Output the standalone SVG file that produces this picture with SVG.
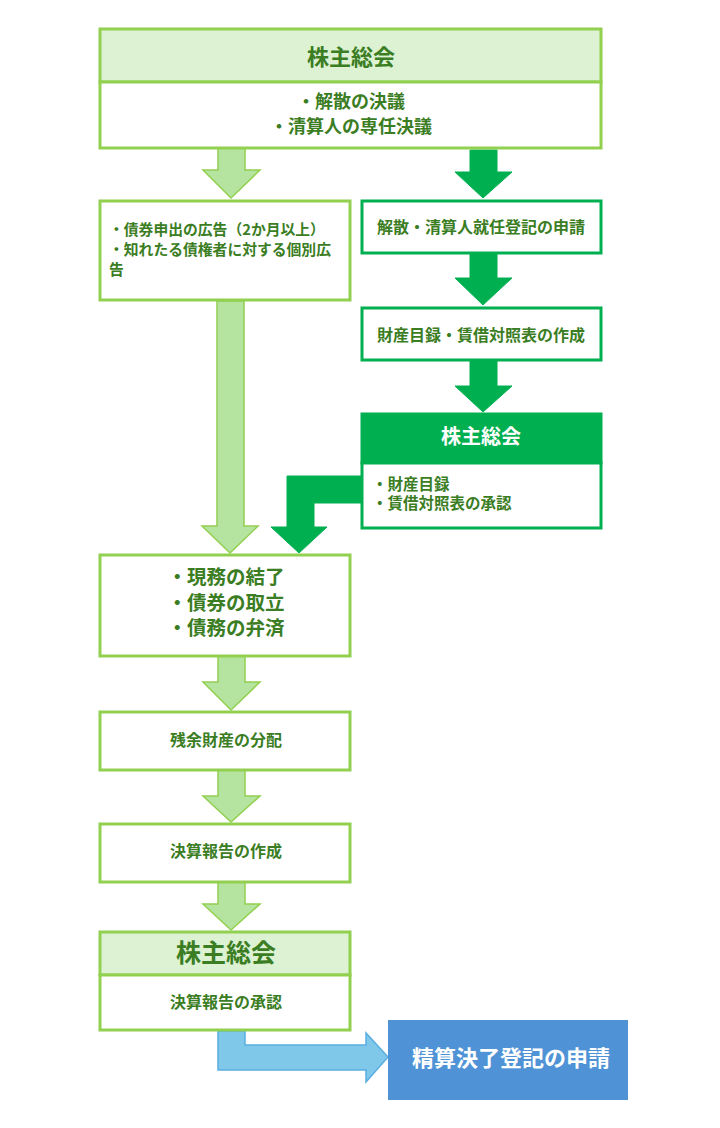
<svg xmlns="http://www.w3.org/2000/svg" width="720" height="1128" viewBox="0 0 720 1128">
<style>
.lb{fill:#fff;stroke:#92d050;stroke-width:3}
.lh{fill:#dcf2d2;stroke:#92d050;stroke-width:3}
.db{fill:#fff;stroke:#00b050;stroke-width:3}
.dh{fill:#00b050;stroke:#00b050;stroke-width:3}
.la{fill:#b5e3a0;stroke:#92d050;stroke-width:1.5}
.da{fill:#00b050;stroke:#00b050;stroke-width:1}
.ba{fill:#7fc8ea;stroke:#5aaee0;stroke-width:1.5}
text{font-family:"Noto Sans CJK JP","Noto Sans",sans-serif;font-weight:bold;fill:#3b7d23}
.c{text-anchor:middle}
.w{fill:#fff}
</style>
<g id="connectors">
<path class="la" d="M218,148 H245 V170 H260 L231,198 L203,170 H218 Z"/>
<path class="da" d="M470,150 H497 V172 H512 L483,198 L455,172 H470 Z"/>
<path class="da" d="M470,253 H497 V278 H512 L483,305 L455,278 H470 Z"/>
<path class="da" d="M470,360 H497 V386 H512 L483,412 L455,386 H470 Z"/>
<path class="da" d="M362,476 V503 H314 V527 H327 L299,553 L271,527 H287 V476 Z"/>
<path class="la" d="M217,301 H244 V526 H258 L230,553 L202,526 H217 Z"/>
<path class="la" d="M218,656 H245 V682 H260 L231,710 L203,682 H218 Z"/>
<path class="la" d="M218,770 H245 V796 H260 L231,822 L203,796 H218 Z"/>
<path class="la" d="M218,882 H245 V904 H260 L231,930 L203,904 H218 Z"/>
<path class="ba" d="M218,1031 H245 V1045 H366 V1033 L388,1057 L366,1082 V1070 H218 Z"/>
</g>
<g id="n1">
<rect class="lh" x="100" y="29" width="501" height="53"/>
<rect class="lb" x="100" y="82" width="501" height="66"/>
<text class="c" x="351" y="65" font-size="22">株主総会</text>
<text class="c" x="351" y="108" font-size="18">・解散の決議</text>
<text class="c" x="351" y="133" font-size="18">・清算人の専任決議</text>
</g>
<g id="n2">
<rect class="lb" x="100" y="201" width="250" height="99"/>
<text x="109" y="235" font-size="14.8">・債券申出の広告（2か月以上）</text>
<text x="109" y="255" font-size="14.8">・知れたる債権者に対する個別広</text>
<text x="109" y="275" font-size="14.8">告</text>
</g>
<g id="n3">
<rect class="db" x="362" y="201" width="239" height="52"/>
<text class="c" x="481" y="233" font-size="16">解散・清算人就任登記の申請</text>
</g>
<g id="n4">
<rect class="db" x="362" y="308" width="239" height="52"/>
<text class="c" x="481" y="341" font-size="16">財産目録・賃借対照表の作成</text>
</g>
<g id="n5">
<rect class="dh" x="362" y="414" width="239" height="49"/>
<rect class="db" x="362" y="463" width="239" height="65"/>
<text class="c w" x="481" y="444" font-size="20">株主総会</text>
<text x="372" y="490" font-size="15.5">・財産目録</text>
<text x="372" y="509" font-size="15.5">・賃借対照表の承認</text>
</g>
<g id="n6">
<rect class="lb" x="100" y="555" width="250" height="101"/>
<text class="c" x="226" y="584" font-size="19.5">・現務の結了</text>
<text class="c" x="226" y="609.5" font-size="19.5">・債券の取立</text>
<text class="c" x="226" y="635" font-size="19.5">・債務の弁済</text>
</g>
<g id="n7">
<rect class="lb" x="100" y="712" width="250" height="58"/>
<text class="c" x="226" y="746" font-size="16">残余財産の分配</text>
</g>
<g id="n8">
<rect class="lb" x="100" y="824" width="250" height="58"/>
<text class="c" x="226" y="857" font-size="16">決算報告の作成</text>
</g>
<g id="n9">
<rect class="lh" x="100" y="932" width="250" height="43"/>
<rect class="lb" x="100" y="975" width="250" height="55"/>
<text class="c" x="226" y="962" font-size="25">株主総会</text>
<text class="c" x="226" y="1008" font-size="16">決算報告の承認</text>
</g>
<g id="n10">
<rect x="388" y="1020" width="240" height="80" fill="#4f93d6"/>
<text class="c w" x="511" y="1066" font-size="22">精算決了登記の申請</text>
</g>
</svg>
